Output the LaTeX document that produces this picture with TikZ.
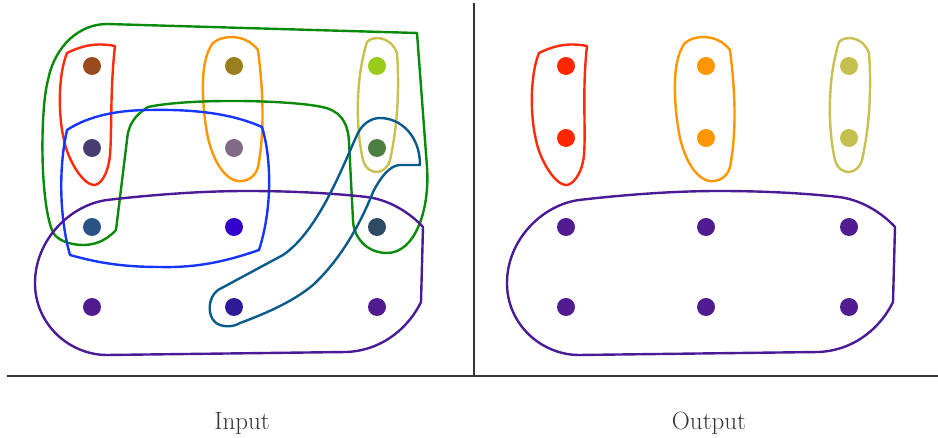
\documentclass[tikz,border=0pt]{standalone}
\usetikzlibrary{positioning}
\definecolor{cRed}{HTML}{FF2A0A}
\definecolor{cOrange}{HTML}{FF9500}
\definecolor{cYel}{HTML}{C8C050}
\definecolor{cGreen}{HTML}{0A8A0A}
\definecolor{cBlue}{HTML}{1436FF}
\definecolor{cPurp}{HTML}{4B1A96}
\definecolor{cTeal}{HTML}{0A5A8C}
\definecolor{cLine}{HTML}{333333}
\definecolor{d11}{HTML}{9B4A1E}
\definecolor{d12}{HTML}{9A7E1E}
\definecolor{d13}{HTML}{99CC1A}
\definecolor{d21}{HTML}{4A3D72}
\definecolor{d22}{HTML}{806A85}
\definecolor{d23}{HTML}{4D7F45}
\definecolor{d31}{HTML}{2B5287}
\definecolor{d32}{HTML}{3300CC}
\definecolor{d33}{HTML}{314A63}
\definecolor{d41}{HTML}{521A8F}
\definecolor{d42}{HTML}{2E1A96}
\definecolor{dR}{HTML}{FF2600}
\definecolor{dO}{HTML}{FF9600}
\definecolor{dY}{HTML}{C4C04E}
\definecolor{dP}{HTML}{511B91}
\tikzset{
  dot/.style={circle, inner sep=0pt, minimum size=18pt, draw=none},
  hull/.style={line width=2.4pt, line join=round},
  lbl/.style={font=\fontsize{25}{30}\selectfont, text=cLine},
}
\begin{document}
\begin{tikzpicture}[x=1pt,y=-1pt]
\useasboundingbox (0,0) rectangle (938,438);
% dividers
\draw[cLine, line width=1.2pt] (474,3) -- (474,376);
\draw[cLine, line width=1.2pt] (7,376) -- (938,376);
% ---------- left panel hulls
\draw[hull, cRed] (67,53) .. controls (85,44) and (100,43) .. (115,46)
  .. controls (110,90) and (112,130) .. (110,155)
  .. controls (108,175) and (100,186) .. (93,185)
  .. controls (82,183) and (68,160) .. (64,140)
  .. controls (58,115) and (58,75) .. (67,53) -- cycle;
\draw[hull, cOrange] (213,43) .. controls (222,35) and (245,33) .. (258,50)
  .. controls (263,90) and (265,130) .. (258,167)
  .. controls (255,180) and (240,185) .. (230,178)
  .. controls (218,170) and (210,150) .. (207,133)
  .. controls (203,110) and (198,62) .. (213,43) -- cycle;
\draw[hull, cYel] (367,42) .. controls (372,36) and (390,35) .. (397,53)
  .. controls (399,80) and (399,120) .. (390,160)
  .. controls (386,175) and (368,177) .. (363,160)
  .. controls (356,130) and (355,80) .. (367,42) -- cycle;
\draw[hull, cGreen] (107,24) -- (417,33) -- (427,167)
  .. controls (430,210) and (415,253) .. (387,253)
  .. controls (365,253) and (353,235) .. (353,220) -- (349,142)
  .. controls (348,120) and (338,110) .. (322,107)
  .. controls (290,100) and (190,98) .. (148,107)
  .. controls (135,115) and (128,125) .. (127,140) -- (116,230)
  .. controls (105,242) and (93,245) .. (83,245)
  .. controls (70,245) and (55,240) .. (52,230)
  .. controls (40,200) and (40,110) .. (48,80)
  .. controls (55,45) and (80,24) .. (107,24) -- cycle;
\draw[hull, cBlue] (67,130) .. controls (90,115) and (120,110) .. (150,110)
  .. controls (200,109) and (235,115) .. (262,127)
  .. controls (272,160) and (272,210) .. (259,250)
  .. controls (230,260) and (200,268) .. (160,267)
  .. controls (120,267) and (95,262) .. (70,255)
  .. controls (60,220) and (58,170) .. (67,130) -- cycle;
\draw[hull, cPurp] (107,200) .. controls (150,195) and (200,191) .. (247,191)
  .. controls (290,191) and (330,193) .. (367,197)
  .. controls (390,200) and (410,213) .. (423,227) -- (421,302)
  .. controls (410,325) and (385,350) .. (347,352) -- (107,355)
  .. controls (70,355) and (35,325) .. (35,283)
  .. controls (35,240) and (70,205) .. (107,200) -- cycle;
\draw[hull, cTeal] (420,165) .. controls (420,135) and (400,118) .. (380,118)
  .. controls (370,118) and (362,125) .. (358,133)
  .. controls (345,160) and (320,230) .. (283,255) -- (218,290)
  .. controls (208,297) and (207,315) .. (215,322)
  .. controls (220,327) and (232,328) .. (240,323)
  .. controls (270,312) and (295,300) .. (313,285)
  .. controls (340,260) and (360,225) .. (373,192)
  .. controls (380,178) and (390,165) .. (400,165) -- cycle;
% left dots
\node[dot, fill=d11] (a11) at (92,66) {};
\node[dot, fill=d12] (a12) at (234,66) {};
\node[dot, fill=d13] (a13) at (377,66) {};
\node[dot, fill=d21] (a21) at (92,148) {};
\node[dot, fill=d22] (a22) at (234,148) {};
\node[dot, fill=d23] (a23) at (377,148) {};
\node[dot, fill=d31] (a31) at (92,227) {};
\node[dot, fill=d32] (a32) at (234,227) {};
\node[dot, fill=d33] (a33) at (377,227) {};
\node[dot, fill=d41] (a41) at (92,307) {};
\node[dot, fill=d42] (a42) at (234,307) {};
\node[dot, fill=d41] (a43) at (377,307) {};
% ---------- right panel
\begin{scope}[xshift=472pt]
\draw[hull, cRed] (67,53) .. controls (85,44) and (100,43) .. (115,46)
  .. controls (110,90) and (114,130) .. (112,155)
  .. controls (110,175) and (100,186) .. (93,185)
  .. controls (82,183) and (68,160) .. (64,140)
  .. controls (58,115) and (58,75) .. (67,53) -- cycle;
\draw[hull, cOrange] (213,43) .. controls (222,35) and (245,33) .. (258,50)
  .. controls (263,90) and (265,130) .. (258,167)
  .. controls (255,180) and (240,185) .. (230,178)
  .. controls (218,170) and (210,150) .. (207,133)
  .. controls (203,110) and (198,62) .. (213,43) -- cycle;
\draw[hull, cYel] (367,42) .. controls (372,36) and (390,35) .. (397,53)
  .. controls (399,80) and (399,120) .. (390,160)
  .. controls (386,175) and (368,177) .. (363,160)
  .. controls (356,130) and (355,80) .. (367,42) -- cycle;
\draw[hull, cPurp] (107,200) .. controls (150,195) and (200,191) .. (247,191)
  .. controls (290,191) and (330,193) .. (367,197)
  .. controls (390,200) and (410,213) .. (423,227) -- (421,302)
  .. controls (410,325) and (385,350) .. (347,352) -- (107,355)
  .. controls (70,355) and (35,325) .. (35,283)
  .. controls (35,240) and (70,205) .. (107,200) -- cycle;
\end{scope}
\node[dot, fill=dR] (b11) at (566,66) {};
\node[dot, fill=dO] (b12) at (706,66) {};
\node[dot, fill=dY] (b13) at (849,66) {};
\node[dot, fill=dR] (b21) at (566,138) {};
\node[dot, fill=dO] (b22) at (706,138) {};
\node[dot, fill=dY] (b23) at (849,138) {};
\node[dot, fill=dP] (b31) at (566,227) {};
\node[dot, fill=dP] (b32) at (706,227) {};
\node[dot, fill=dP] (b33) at (849,227) {};
\node[dot, fill=dP] (b41) at (566,307) {};
\node[dot, fill=dP] (b42) at (706,307) {};
\node[dot, fill=dP] (b43) at (849,307) {};
% labels
\node[lbl, anchor=base] (inp) at (242,430) {Input};
\node[lbl, anchor=base] (outp) at (709,430) {Output};
\end{tikzpicture}
\end{document}
